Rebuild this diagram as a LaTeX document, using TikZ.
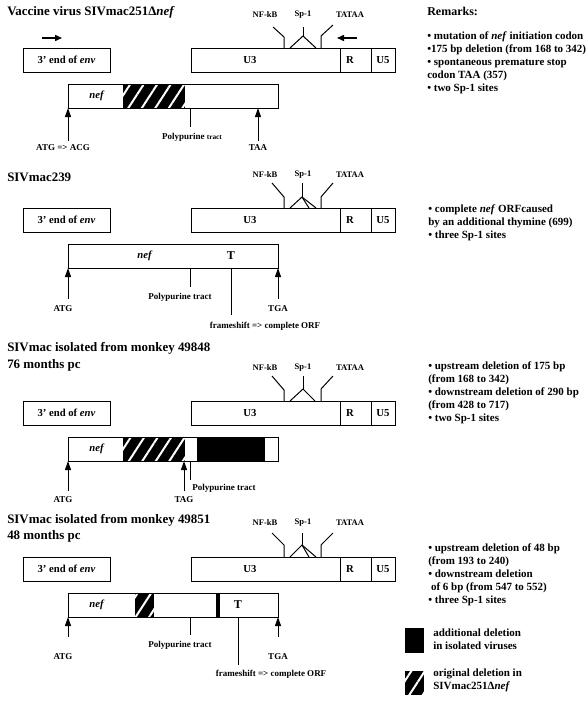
\documentclass[tikz,border=0pt]{standalone}
\usepackage{fontspec}
\setmainfont{Liberation Serif}
\usetikzlibrary{arrows.meta,patterns.meta}

\begin{document}
\begin{tikzpicture}[x=0.75pt,y=0.75pt,yscale=-1,xscale=1,
  box/.style={draw,line width=0.75},
  pin/.style={line width=0.75},
  up/.style={line width=0.75,-{Triangle[length=6.75pt,width=4.5pt]}},
  dirarrow/.style={line width=1.1,-{Triangle[length=5.25pt,width=4.5pt]}},
  hatch/.style={fill=black,postaction={pattern={Lines[angle=57,distance=8.5pt,line width=1.5pt]},pattern color=white}},
  ttl/.style={anchor=west,inner sep=0pt,font=\fontsize{9.7}{12.75}\selectfont\bfseries},
  rmk/.style={anchor=north west,inner sep=0pt,align=left,font=\fontsize{8.25}{9.75}\selectfont\bfseries},
  blbl/.style={inner sep=0pt,font=\fontsize{8}{9}\selectfont\bfseries},
  slbl/.style={inner sep=0pt,font=\fontsize{6.75}{8}\selectfont\bfseries},
  site/.style={inner sep=0pt,font=\fontsize{6.4}{8}\selectfont\bfseries}]
\useasboundingbox (0,0) rectangle (587,701);

%%%%%%%%%% Panel 1: vaccine virus
% Text Node
\node[ttl] (ttl1) at (7,12) {Vaccine virus SIVmac251Δ\textit{nef}};
%Straight Lines
\coordinate (fwa1) at (42,38); \coordinate (fwb1) at (62,38);
\draw[dirarrow] (fwa1) -- (fwb1);
\coordinate (rva1) at (357,38); \coordinate (rvb1) at (337,38);
\draw[dirarrow] (rva1) -- (rvb1);
%Shape: Rectangle
\draw[box] (23,48) rectangle (110,72);
\draw[box] (191,48) rectangle (340,72);
\draw[box] (340,48) rectangle (371,72);
\draw[box] (371,48) rectangle (395,72);
% Text Node
\node[blbl] (env1) at (66.5,60) {3' end of \textit{env}};
\node[blbl] (uthree1) at (250,60) {U3};
\node[blbl] (r1) at (350,60) {R};
\node[blbl] (ufive1) at (383,60) {U5};
% Text Node
\node[site] (nfkb1) at (265,15) {NF-kB};
\node[site] (spone1) at (303,15) {Sp-1};
\node[site] (tataa1) at (350,15) {TATAA};
%Straight Lines
\draw[pin] (284,48) -- (284,37) -- (273,27);
\draw[pin] (303,27) -- (303,36);
\draw[pin] (290,48) -- (303,36) -- (316,48);
\draw[pin] (321,48) -- (321,36) -- (333,25);
%Shape: Rectangle
\fill[hatch] (123,84) rectangle (185,108);
\draw[box] (68,84) rectangle (278,108);
\node[blbl] (nef1) at (97,96) {\textit{nef}};
%Straight Lines
\coordinate (atgs1) at (68,108);
\coordinate (taas1) at (258,108);
\coordinate (ppt1) at (190,108);
\node[slbl] (atg1) at (63,148) {ATG => ACG};
\node[slbl] (taa1) at (258,148) {TAA};
\node[slbl] (pplbl1) at (192,137) {Polypurine {\fontsize{5.5}{6}\selectfont tract}};
\draw[up] (atgs1) ++(0,33) -- (atgs1);
\draw[up] (taas1) ++(0,33) -- (taas1);
\draw[pin] (ppt1) -- ++(0,19);
% Text Node
\node[rmk,font=\fontsize{9}{10}\selectfont\bfseries,anchor=west] (rmkhead) at (427,11) {Remarks:};
\node[rmk] (rmk1) at (427,31) {• mutation of \textit{nef} initiation codon\\•175 bp deletion (from 168 to 342)\\• spontaneous premature stop\\codon TAA (357)\\• two Sp-1 sites};

%%%%%%%%%% Panel 2: SIVmac239
% Text Node
\node[ttl] (ttl2) at (7,177) {SIVmac239};
%Shape: Rectangle
\draw[box] (23,208) rectangle (110,232);
\draw[box] (191,208) rectangle (340,232);
\draw[box] (340,208) rectangle (371,232);
\draw[box] (371,208) rectangle (395,232);
% Text Node
\node[blbl] (env2) at (66.5,220) {3' end of \textit{env}};
\node[blbl] (uthree2) at (250,220) {U3};
\node[blbl] (r2) at (350,220) {R};
\node[blbl] (ufive2) at (383,220) {U5};
\node[site] (nfkb2) at (265,175) {NF-kB};
\node[site] (spone2) at (303,175) {Sp-1};
\node[site] (tataa2) at (350,175) {TATAA};
%Straight Lines
\draw[pin] (284,208) -- (284,197) -- (272,183);
\draw[pin] (302,183) -- (302,197);
\draw[pin] (290,208) -- (302,197) -- (316,208);
\draw[pin] (302,197) -- (309,208);
\draw[pin] (321,208) -- (321,197) -- (333,183);
%Shape: Rectangle
\draw[box] (68,244) rectangle (278,268);
\node[blbl] (nef2) at (145,256) {\textit{nef}};
\node[blbl,font=\fontsize{9}{10}\selectfont\bfseries] (t2) at (231,256) {T};
%Straight Lines
\coordinate (atgs2) at (68,268);
\coordinate (tgas2) at (278,268);
\coordinate (ppt2) at (190,268);
\coordinate (tpos2) at (231,268);
\node[slbl] (atg2) at (63,309) {ATG};
\node[slbl] (tga2) at (278,309) {TGA};
\node[slbl] (pplbl2) at (180,297) {Polypurine tract};
\node[slbl] (fs2) at (265,326) {frameshift => complete ORF};
\draw[up] (atgs2) ++(0,31) -- (atgs2);
\draw[up] (tgas2) ++(0,31) -- (tgas2);
\draw[pin] (ppt2) -- ++(0,19);
\draw[pin] (tpos2) -- ++(0,47);
% Text Node
\node[rmk] (rmk2) at (428,204) {• complete \textit{nef} ORFcaused\\by an additional thymine (699)\\• three Sp-1 sites};

%%%%%%%%%% Panel 3: monkey 49848
% Text Node
\node[ttl] (ttl3) at (7,348) {SIVmac isolated from monkey 49848};
\node[ttl] (ttl3b) at (7,365) {76 months pc};
%Shape: Rectangle
\draw[box] (23,401) rectangle (110,425);
\draw[box] (191,401) rectangle (340,425);
\draw[box] (340,401) rectangle (371,425);
\draw[box] (371,401) rectangle (395,425);
% Text Node
\node[blbl] (env3) at (66.5,413) {3' end of \textit{env}};
\node[blbl] (uthree3) at (250,413) {U3};
\node[blbl] (r3) at (350,413) {R};
\node[blbl] (ufive3) at (383,413) {U5};
\node[site] (nfkb3) at (265,368) {NF-kB};
\node[site] (spone3) at (303,368) {Sp-1};
\node[site] (tataa3) at (350,368) {TATAA};
%Straight Lines
\draw[pin] (284,401) -- (284,390) -- (272,376);
\draw[pin] (303,376) -- (303,389);
\draw[pin] (290,401) -- (303,389) -- (315,401);
\draw[pin] (321,401) -- (321,389) -- (333,376);
%Shape: Rectangle
\fill[hatch] (123,437) rectangle (185,461);
\fill (197,437) rectangle (265,461);
\draw[box] (68,437) rectangle (278,461);
\node[blbl] (nef3) at (97,449) {\textit{nef}};
%Straight Lines
\coordinate (atgs3) at (68,461);
\coordinate (tags3) at (184,461);
\coordinate (ppt3) at (190,461);
\node[slbl] (atg3) at (63,500) {ATG};
\node[slbl] (tag3) at (184,500) {TAG};
\node[slbl,anchor=west] (pplbl3) at (192,488) {Polypurine tract};
\draw[up] (atgs3) ++(0,30) -- (atgs3);
\draw[up] (tags3) ++(0,30) -- (tags3);
\draw[pin] (ppt3) -- ++(0,19);
% Text Node
\node[rmk] (rmk3) at (428,361) {• upstream deletion of 175 bp\\(from 168 to 342)\\• downstream deletion of 290 bp\\(from 428 to 717)\\• two Sp-1 sites};

%%%%%%%%%% Panel 4: monkey 49851
% Text Node
\node[ttl] (ttl4) at (7,520) {SIVmac isolated from monkey 49851};
\node[ttl] (ttl4b) at (7,536) {48 months pc};
%Shape: Rectangle
\draw[box] (23,557) rectangle (110,581);
\draw[box] (191,557) rectangle (340,581);
\draw[box] (340,557) rectangle (371,581);
\draw[box] (371,557) rectangle (395,581);
% Text Node
\node[blbl] (env4) at (66.5,569) {3' end of \textit{env}};
\node[blbl] (uthree4) at (250,569) {U3};
\node[blbl] (r4) at (350,569) {R};
\node[blbl] (ufive4) at (383,569) {U5};
\node[site] (nfkb4) at (265,523) {NF-kB};
\node[site] (spone4) at (303,523) {Sp-1};
\node[site] (tataa4) at (350,523) {TATAA};
%Straight Lines
\draw[pin] (284,557) -- (284,545) -- (272,533);
\draw[pin] (302,533) -- (302,545);
\draw[pin] (290,557) -- (302,545) -- (316,557);
\draw[pin] (302,545) -- (309,557);
\draw[pin] (321,557) -- (321,545) -- (333,533);
%Shape: Rectangle
\fill[hatch] (135,593) rectangle (154,617);
\fill (216,593) rectangle (220,617);
\draw[box] (68,593) rectangle (278,617);
\node[blbl] (nef4) at (97,605) {\textit{nef}};
\node[blbl,font=\fontsize{9}{10}\selectfont\bfseries] (t4) at (238,605) {T};
%Straight Lines
\coordinate (atgs4) at (68,617);
\coordinate (tgas4) at (278,617);
\coordinate (ppt4) at (190,617);
\coordinate (tpos4) at (238,617);
\node[slbl] (atg4) at (63,657) {ATG};
\node[slbl] (tga4) at (278,657) {TGA};
\node[slbl] (pplbl4) at (180,645) {Polypurine tract};
\node[slbl] (fs4) at (271,674) {frameshift => complete ORF};
\draw[up] (atgs4) ++(0,20) -- (atgs4);
\draw[up] (tgas4) ++(0,20) -- (tgas4);
\draw[pin] (ppt4) -- ++(0,18);
\draw[pin] (tpos4) -- ++(0,48);
% Text Node
\node[rmk] (rmk4) at (428,543) {• upstream deletion of 48 bp\\(from 193 to 240)\\• downstream deletion\\\ of 6 bp (from 547 to 552)\\• three Sp-1 sites};

%%%%%%%%%% Legend
%Shape: Rectangle
\fill (405,628) rectangle (424,653);
\fill[hatch] (405,671) rectangle (424,695);
% Text Node
\node[rmk] (key1) at (433,629) {additional deletion\\in isolated viruses};
\node[rmk] (key2) at (433,669) {original deletion in\\SIVmac251Δ\textit{nef}};

\end{tikzpicture}
\end{document}
